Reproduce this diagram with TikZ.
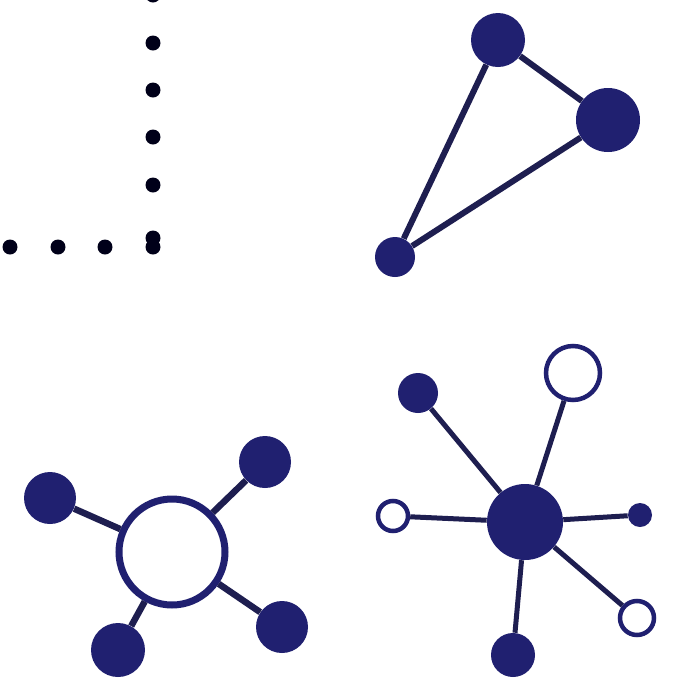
\documentclass[tikz,border=0pt]{standalone}
\begin{document}
\begin{tikzpicture}[x=0.02cm,y=-0.02cm,
  fdot/.style={circle,inner sep=0pt,fill=black!90!blue},
  full/.style={circle,inner sep=0pt,fill=nv},
  hollow/.style={circle,inner sep=0pt,fill=white,draw=nv},
  link/.style={draw=nvline}]
\definecolor{nv}{RGB}{32,32,112}
\definecolor{nvline}{RGB}{30,30,80}
\useasboundingbox[fill=white] (0,0) rectangle (674,684);
% dotted corner
\foreach \y [count=\i] in {-5,43,90,137,185,238}
  \node[fdot,minimum size=15*0.02cm] (v\i) at (153,\y) {};
\foreach \x [count=\i] in {10,58,105,153}
  \node[fdot,minimum size=15*0.02cm] (h\i) at (\x,247) {};
% triangle
\node[full,minimum size=54*0.02cm] (ta) at (498,40) {};
\node[full,minimum size=64*0.02cm] (tb) at (608,120) {};
\node[full,minimum size=40*0.02cm] (tc) at (395,257) {};
\draw[link,line width=6*0.02cm] (ta) -- (tb) (tb) -- (tc) (tc) -- (ta);
% ring group
\node[hollow,line width=7*0.02cm,minimum size=106*0.02cm] (rc) at (172,552) {};
\node[full,minimum size=52*0.02cm] (r1) at (50,498) {};
\node[full,minimum size=52*0.02cm] (r2) at (265,462) {};
\node[full,minimum size=52*0.02cm] (r3) at (282,627) {};
\node[full,minimum size=54*0.02cm] (r4) at (118,650) {};
\foreach \n in {r1,r2,r3,r4}
  \draw[link,line width=6.5*0.02cm] (rc) -- (\n);
% star group
\node[full,minimum size=76*0.02cm] (sc) at (525,522) {};
\node[full,minimum size=40*0.02cm] (s1) at (418,393) {};
\node[hollow,line width=4.5*0.02cm,minimum size=54*0.02cm] (s2) at (573,373) {};
\node[hollow,line width=4.5*0.02cm,minimum size=30*0.02cm] (s3) at (393,516) {};
\node[full,minimum size=24*0.02cm] (s4) at (640,515) {};
\node[hollow,line width=4.5*0.02cm,minimum size=34*0.02cm] (s5) at (637,618) {};
\node[full,minimum size=44*0.02cm] (s6) at (513,655) {};
\foreach \n in {s1,s2,s3,s4,s5,s6}
  \draw[link,line width=5*0.02cm] (sc) -- (\n);
\end{tikzpicture}
\end{document}
